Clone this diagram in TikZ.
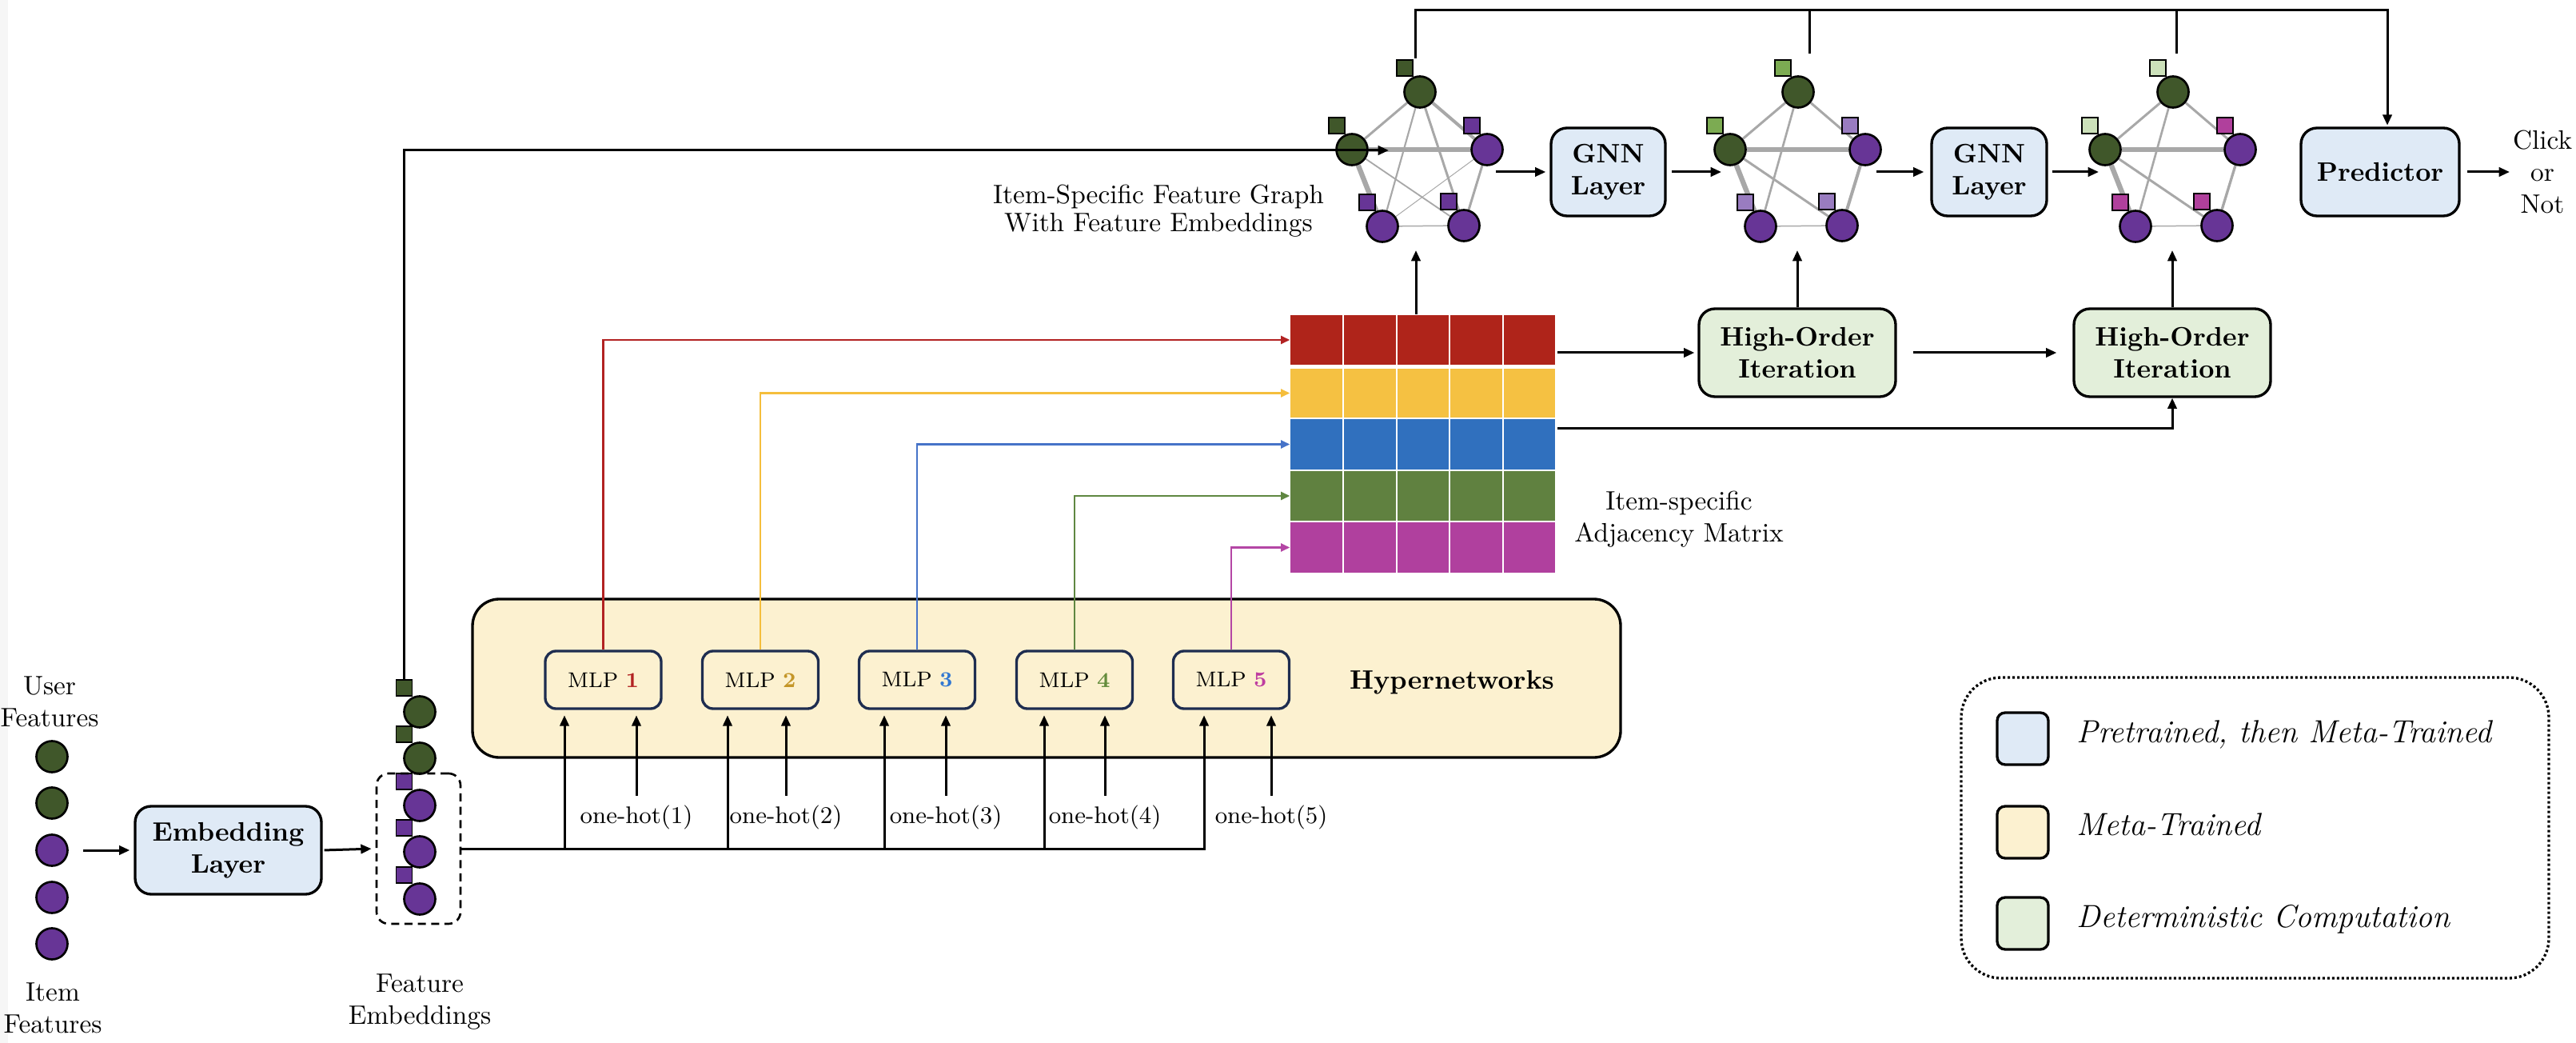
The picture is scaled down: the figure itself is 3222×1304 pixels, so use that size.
\documentclass[tikz,border=0pt]{standalone}
\usetikzlibrary{arrows.meta,calc,backgrounds,fit}
\definecolor{dgreen}{RGB}{64,87,42}
\definecolor{dpurple}{RGB}{103,53,150}
\definecolor{lgreen}{RGB}{124,171,82}
\definecolor{lpurple}{RGB}{153,124,192}
\definecolor{vlgreen}{RGB}{204,225,186}
\definecolor{magsq}{RGB}{176,64,156}
\definecolor{bluefill}{RGB}{223,234,246}
\definecolor{yelfill}{RGB}{252,241,208}
\definecolor{grnfill}{RGB}{227,239,218}
\definecolor{mred}{RGB}{175,36,26}
\definecolor{myel}{RGB}{245,193,66}
\definecolor{mblue}{RGB}{48,112,190}
\definecolor{mgrn}{RGB}{96,129,64}
\definecolor{mmag}{RGB}{176,64,158}
\definecolor{ared}{RGB}{178,34,34}
\definecolor{ayel}{RGB}{245,190,60}
\definecolor{ablue}{RGB}{70,115,200}
\definecolor{agrn}{RGB}{95,135,65}
\definecolor{amag}{RGB}{180,70,165}
\definecolor{navy}{RGB}{30,45,80}
\definecolor{egray}{RGB}{168,168,168}
\definecolor{n1}{RGB}{178,34,34}
\definecolor{n2}{RGB}{196,150,40}
\definecolor{n3}{RGB}{50,120,210}
\definecolor{n4}{RGB}{100,140,60}
\definecolor{n5}{RGB}{190,60,160}

\newcommand{\fgraph}[4]{%
  \node[gn,fill=dgreen] (#1t) at ({#2},115) {};
  \node[gn,fill=dgreen] (#1l) at ({#2-85},187) {};
  \node[gn,fill=dpurple] (#1r) at ({#2+84},187) {};
  \node[gn,fill=dpurple] (#1a) at ({#2-47},283) {};
  \node[gn,fill=dpurple] (#1b) at ({#2+55},282) {};
  \foreach \n/\c in {t/#3,l/#3,r/#4,a/#4,b/#4}
    \node[sq,fill=\c] (sq#1\n) at ($(#1\n)+(-19,-30)$) {};
}
\newcommand{\gedge}[3]{\draw[draw=egray,line width=#3] (#1) -- (#2);}

\begin{document}
\begin{tikzpicture}[x=0.3pt,y=-0.3pt,
  arr/.style={line width=0.9pt,-{Triangle[length=4pt,width=3.4pt]}},
  ln/.style={line width=0.9pt},
  carr/.style={line width=0.75pt,-{Triangle[length=3.4pt,width=3pt]}},
  blk/.style={draw,line width=1pt,rounded corners=6pt,align=center,font=\bfseries,inner sep=0pt,minimum height=33pt},
  gn/.style={circle,draw,line width=0.8pt,inner sep=0pt,minimum size=11.7pt},
  sq/.style={rectangle,draw,line width=0.5pt,inner sep=0pt,minimum size=6pt},
  mlpbox/.style={draw=navy,line width=1pt,rounded corners=4pt,fill=yelfill,minimum width=43.5pt,minimum height=21.6pt,inner sep=0pt,font=\footnotesize},
  lbl/.style={align=center,inner sep=0pt},
  rowc/.style={rectangle,inner sep=0pt,minimum width=99.3pt},
  swatch/.style={draw,line width=1pt,rounded corners=3pt,minimum width=19.2pt,minimum height=19.5pt,inner sep=0pt},
  legtxt/.style={anchor=base west,font=\large\itshape,inner sep=0pt},
]
\useasboundingbox (0,0) rectangle (3222,1304);
\fill[gray!7] (0,0) rectangle (10,1304);

% ---------- input features ----------
\node[lbl] (ut) at (62,877) {User\\Features};
\foreach \i/\y/\c in {1/946/dgreen,2/1004/dgreen,3/1063/dpurple,4/1122/dpurple,5/1180/dpurple}
  \node[gn,fill=\c] (uf\i) at (65,\y) {};
\node[lbl] (it) at (66,1260) {Item\\Features};

% ---------- embedding layer ----------
\node[blk,fill=bluefill,minimum width=69.9pt] (emb) at (285.5,1063) {Embedding\\Layer};
\draw[arr,shorten >=1.5pt] ($(uf3.east)+(18,0)$) -- (emb.west);

% ---------- feature embeddings ----------
\foreach \i/\y/\c in {1/890/dgreen,2/948/dgreen,3/1007/dpurple,4/1065/dpurple,5/1124/dpurple}{
  \node[gn,fill=\c] (fe\i) at (525,\y) {};
  \node[sq,fill=\c] (fs\i) at ($(fe\i)+(-19.5,-30)$) {};
}
\node[draw,dash pattern=on 3pt off 2pt,line width=0.8pt,rounded corners=4.5pt,minimum width=31.5pt,minimum height=56.4pt,inner sep=0pt] (feb) at (523.5,1061) {};
\node[lbl] (fet) at (525,1253) {Feature\\Embeddings};
\draw[arr,shorten <=0.6pt,shorten >=1.5pt] (emb.east) -- (feb.west);

% ---------- hypernetworks ----------
\node[draw,line width=1pt,rounded corners=10pt,fill=yelfill,minimum width=430.8pt,minimum height=59.4pt,inner sep=0pt] (hyp) at (1309,848) {};
\node[font=\bfseries] (hypt) at (1816,853) {Hypernetworks};
\node[mlpbox] (mlp1) at (754.5,850) {MLP \textbf{\color{n1}1}};
\node[mlpbox] (mlp2) at (951,850) {MLP \textbf{\color{n2}2}};
\node[mlpbox] (mlp3) at (1147,850) {MLP \textbf{\color{n3}3}};
\node[mlpbox] (mlp4) at (1344,850) {MLP \textbf{\color{n4}4}};
\node[mlpbox] (mlp5) at (1540,850) {MLP \textbf{\color{n5}5}};

% ---------- adjacency matrix ----------
\node[rowc,fill=mred,minimum height=18.6pt] (r1) at (1779.5,425) {};
\node[rowc,fill=myel,minimum height=18.3pt] (r2) at (1779.5,491.5) {};
\node[rowc,fill=mblue,minimum height=18.9pt] (r3) at (1779.5,555.5) {};
\node[rowc,fill=mgrn,minimum height=18.6pt] (r4) at (1779.5,620) {};
\node[rowc,fill=mmag,minimum height=18.9pt] (r5) at (1779.5,684.5) {};
\foreach \x in {1680,1747,1813,1880} \draw[white,line width=0.7pt] (\x,393) -- (\x,717);
\node[fit=(r1)(r5),inner sep=0pt] (mat) {};
\node[lbl] (matt) at (2100,649) {Item-specific\\Adjacency Matrix};

\draw[carr,ared] (mlp1.north) |- (r1.west);
\draw[carr,ayel] (mlp2.north) |- (r2.west);
\draw[carr,ablue] (mlp3.north) |- (r3.west);
\draw[carr,agrn] (mlp4.north) |- (r4.west);
\draw[carr,amag] (mlp5.north) |- (r5.west);

% ---------- bus and one-hot inputs ----------
\coordinate (b1) at (706,1061);
\coordinate (b2) at (910,1061);
\coordinate (b3) at (1106,1061);
\coordinate (b4) at (1306,1061);
\coordinate (b5) at (1506,1061);
\draw[arr,shorten >=2pt] (feb.east) -| (b5 |- mlp5.south);
\foreach \i in {1,...,4} \draw[arr,shorten >=2pt] (b\i) -- (b\i |- mlp\i.south);
\foreach \i/\x in {1/796,2/983,3/1183,4/1382,5/1590}{
  \node[font=\small] (oh\i) at (\x,1022) {one-hot(\i)};
  \draw[arr,shorten >=2pt] (oh\i.north) -- (oh\i.north |- mlp\i.south);
}

% ---------- feature graphs ----------
\fgraph{g1}{1776}{dgreen}{dpurple}
\fgraph{g2}{2249}{lgreen}{lpurple}
\fgraph{g3}{2718}{vlgreen}{magsq}
\begin{pgfonlayer}{background}
  \gedge{g1t}{g1l}{0.9pt}
  \gedge{g1t}{g1r}{1.2pt}
  \gedge{g1t}{g1a}{0.65pt}
  \gedge{g1t}{g1b}{0.9pt}
  \gedge{g1l}{g1r}{1.9pt}
  \gedge{g1l}{g1a}{1.9pt}
  \gedge{g1l}{g1b}{0.55pt}
  \gedge{g1r}{g1a}{0.3pt}
  \gedge{g1r}{g1b}{0.9pt}
  \gedge{g1a}{g1b}{0.45pt}
  \gedge{g2t}{g2l}{0.9pt}
  \gedge{g2t}{g2r}{0.9pt}
  \gedge{g2t}{g2a}{0.8pt}
  \gedge{g2l}{g2r}{1.9pt}
  \gedge{g2l}{g2a}{1.9pt}
  \gedge{g2l}{g2b}{0.9pt}
  \gedge{g2r}{g2b}{1.2pt}
  \gedge{g2a}{g2b}{0.45pt}
  \gedge{g3t}{g3l}{0.9pt}
  \gedge{g3t}{g3r}{0.9pt}
  \gedge{g3t}{g3a}{0.8pt}
  \gedge{g3l}{g3r}{1.9pt}
  \gedge{g3l}{g3a}{1.9pt}
  \gedge{g3l}{g3b}{0.9pt}
  \gedge{g3r}{g3b}{1.0pt}
  \gedge{g3a}{g3b}{0.45pt}
\end{pgfonlayer}
\node[lbl] (gt) at (1449,264) {Item-Specific Feature Graph\\[-1.5pt]With Feature Embeddings};

\coordinate (g1in) at (1737,188);
\draw[arr] (fs1.north) |- (g1in);

% ---------- GNN layers and predictor ----------
\node[blk,fill=bluefill,minimum width=42.9pt] (gnn1) at (2011.5,215) {GNN\\Layer};
\node[blk,fill=bluefill,minimum width=43.2pt] (gnn2) at (2488,215) {GNN\\Layer};
\node[blk,fill=bluefill,minimum width=59.4pt] (pred) at (2977,215) {Predictor};
\node[lbl] (click) at (3180,215) {Click\\or\\Not};
\coordinate (g1o) at (1871,215);
\coordinate (g2i) at (2153,215);
\coordinate (g2o) at (2347,215);
\coordinate (g3i) at (2625,215);
\draw[arr,shorten >=1.5pt] (g1o) -- (gnn1.west);
\draw[arr,shorten <=2pt] (gnn1.east) -- (g2i);
\draw[arr,shorten >=2.4pt] (g2o) -- (gnn2.west);
\draw[arr,shorten <=1.5pt] (gnn2.east) -- (g3i);
\draw[arr,shorten <=2.4pt,shorten >=1pt] (pred.east) -- (click.west);

% ---------- high-order iterations ----------
\node[blk,fill=grnfill,minimum width=73.8pt] (ho1) at (2248,441) {High-Order\\Iteration};
\node[blk,fill=grnfill,minimum width=73.8pt] (ho2) at (2717,441) {High-Order\\Iteration};
\draw[arr,shorten <=0.6pt,shorten >=1.2pt] (mat.east |- ho1.west) -- (ho1.west);
\draw[arr,shorten <=6pt,shorten >=6pt] (ho1) -- (ho2);
\draw[arr,shorten <=0.6pt] ($(mat.east)+(0,-19)$) -| (ho2.south);

\coordinate (gup) at (1771,313);
\draw[arr] (mat.north -| gup) -- (gup);
\draw[arr] (ho1.north) -- (ho1.north |- gup);
\draw[arr] (ho2.north) -- (ho2.north |- gup);

% ---------- top skip connection ----------
\coordinate (t1) at (1770,73);
\coordinate (t2) at (2263,67);
\coordinate (t3) at (2722,67);
\coordinate (topy) at (0,13);
\coordinate (pin) at (2986,160);
\draw[arr,shorten >=1pt] (t1) -- (t1 |- topy) -| (pin);
\draw[ln] (t2) -- (t2 |- topy);
\draw[ln] (t3) -- (t3 |- topy);

% ---------- legend ----------
\node[draw,line width=1pt,dash pattern=on 0.9pt off 0.9pt,rounded corners=15pt,minimum width=220.5pt,minimum height=112.8pt,inner sep=0pt] (leg) at (2820.5,1035) {};
\node[swatch,fill=bluefill] (sw1) at (2530,923.5) {};
\node[swatch,fill=yelfill] (sw2) at (2530,1040.5) {};
\node[swatch,fill=grnfill] (sw3) at (2530,1154.5) {};
\node[legtxt] (lt1) at (2597,928) {Pretrained, then Meta-Trained};
\node[legtxt] (lt2) at (2597,1044) {Meta-Trained};
\node[legtxt] (lt3) at (2597,1159) {Deterministic Computation};
\end{tikzpicture}
\end{document}
